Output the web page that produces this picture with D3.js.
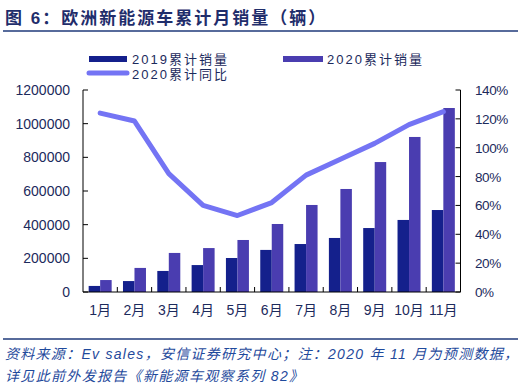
<!DOCTYPE html>
<html>
<head>
<meta charset="utf-8">
<script src="https://cdn.jsdelivr.net/npm/d3@7"></script>
<style>
  body { margin: 0; background: #fff; }
  text { font-family: "Liberation Sans", "Noto Sans CJK SC", sans-serif; }
</style>
</head>
<body>
<svg id="chart" width="523" height="392"></svg>
<script>
const months = ['1月', '2月', '3月', '4月', '5月', '6月', '7月', '8月', '9月', '10月', '11月'];
const sales2019 = [36000, 65000, 125000, 160000, 202000, 250000, 285000, 321000, 380000, 428000, 487000];
const sales2020 = [71000, 143000, 232000, 261000, 309000, 404000, 517000, 612000, 772000, 921000, 1093000];
const yoy2020 = [124, 118.5, 82, 60, 53, 62, 81, 92, 103, 116, 125];
const leftTicks = [0, 200000, 400000, 600000, 800000, 1000000, 1200000];
const rightTicks = [0, 20, 40, 60, 80, 100, 120, 140];

const navy = '#14208c';
const violet = '#4a3db0';
const lineColor = '#7474f4';
const textColor = '#1c2a5c';

const svg = d3.select('#chart');
const plotLeft = 83, plotRight = 460.5, plotTop = 90, plotBottom = 292;

const x = d3.scaleBand().domain(months).range([plotLeft, plotRight]).paddingInner(0.33).paddingOuter(0.165);
const xSub = d3.scaleBand().domain(['2019', '2020']).range([0, x.bandwidth()]);
const y = d3.scaleLinear().domain([0, 1200000]).range([plotBottom, plotTop]);
const y2 = d3.scaleLinear().domain([0, 140]).range([plotBottom, plotTop]);
const step = (plotRight - plotLeft) / months.length;

// title
svg.append('text').attr('x', 5).attr('y', 24)
  .attr('font-size', 17).attr('font-weight', 'bold').attr('fill', '#1f2d6b')
  .attr('letter-spacing', 2)
  .text('图 6：欧洲新能源车累计月销量（辆）');
svg.append('line').attr('x1', 3).attr('x2', 518).attr('y1', 31).attr('y2', 31)
  .attr('stroke', '#1f3a7a').attr('stroke-width', 1.3);

// legend
const lg = svg.append('g');
lg.append('rect').attr('x', 89).attr('y', 56).attr('width', 38).attr('height', 6).attr('fill', navy);
lg.append('text').attr('x', 132).attr('y', 63.5).attr('font-size', 13).attr('fill', textColor)
  .attr('textLength', 95).attr('lengthAdjust', 'spacing').text('2019累计销量');
lg.append('rect').attr('x', 283).attr('y', 56).attr('width', 40).attr('height', 6).attr('fill', violet);
lg.append('text').attr('x', 327).attr('y', 63.5).attr('font-size', 13).attr('fill', textColor)
  .attr('textLength', 95).attr('lengthAdjust', 'spacing').text('2020累计销量');
lg.append('line').attr('x1', 89).attr('x2', 127).attr('y1', 73).attr('y2', 73)
  .attr('stroke', lineColor).attr('stroke-width', 5).attr('stroke-linecap', 'round');
lg.append('text').attr('x', 132).attr('y', 78.5).attr('font-size', 13).attr('fill', textColor)
  .attr('textLength', 95).attr('lengthAdjust', 'spacing').text('2020累计同比');

// bars
const groups = svg.append('g').selectAll('g').data(months).join('g')
  .attr('transform', d => `translate(${x(d)},0)`);
groups.append('rect')
  .attr('x', xSub('2019')).attr('width', xSub.bandwidth())
  .attr('y', (d, i) => y(sales2019[i])).attr('height', (d, i) => plotBottom - y(sales2019[i]))
  .attr('fill', navy);
groups.append('rect')
  .attr('x', xSub('2020')).attr('width', xSub.bandwidth())
  .attr('y', (d, i) => y(sales2020[i])).attr('height', (d, i) => plotBottom - y(sales2020[i]))
  .attr('fill', violet);

// axes
const axisG = svg.append('g').attr('stroke', '#000').attr('stroke-width', 1);
axisG.append('line').attr('x1', plotLeft).attr('x2', plotLeft).attr('y1', plotTop).attr('y2', plotBottom);
axisG.append('line').attr('x1', plotRight).attr('x2', plotRight).attr('y1', plotTop).attr('y2', plotBottom);
axisG.append('line').attr('x1', plotLeft).attr('x2', plotRight).attr('y1', plotBottom).attr('y2', plotBottom);
axisG.selectAll('.lt').data(leftTicks).join('line')
  .attr('x1', plotLeft).attr('x2', plotLeft + 5).attr('y1', d => y(d)).attr('y2', d => y(d));
axisG.selectAll('.rt').data(rightTicks).join('line')
  .attr('x1', plotRight - 5).attr('x2', plotRight).attr('y1', d => y2(d)).attr('y2', d => y2(d));
axisG.selectAll('.xt').data(d3.range(1, months.length)).join('line')
  .attr('x1', d => plotLeft + d * step).attr('x2', d => plotLeft + d * step)
  .attr('y1', plotBottom - 5).attr('y2', plotBottom);

svg.append('g').selectAll('text').data(leftTicks).join('text')
  .attr('x', 70).attr('y', d => y(d) + 5).attr('text-anchor', 'end')
  .attr('font-size', 14).attr('fill', textColor).text(d => d);
svg.append('g').selectAll('text').data(rightTicks).join('text')
  .attr('x', 475).attr('y', d => y2(d) + 5)
  .attr('font-size', 13.5).attr('letter-spacing', -0.4).attr('fill', textColor).text(d => d + '%');
svg.append('g').selectAll('text').data(months).join('text')
  .attr('x', d => x(d) + x.bandwidth() / 2).attr('y', 315).attr('text-anchor', 'middle')
  .attr('font-size', 14).attr('fill', textColor).text(d => d);

// yoy line
const line = d3.line()
  .x((d, i) => x(months[i]) + x.bandwidth() / 2)
  .y(d => y2(d));
svg.append('path').datum(yoy2020).attr('d', line)
  .attr('fill', 'none').attr('stroke', lineColor).attr('stroke-width', 5)
  .attr('stroke-linecap', 'round').attr('stroke-linejoin', 'round');

// footer
svg.append('line').attr('x1', 3).attr('x2', 518).attr('y1', 339).attr('y2', 339)
  .attr('stroke', '#1f3a7a').attr('stroke-width', 1.3);
const footColor = '#1f4a9c';
svg.append('text').attr('x', 5).attr('y', 359).attr('font-size', 14).attr('font-style', 'italic')
  .attr('fill', footColor).attr('textLength', 513).attr('lengthAdjust', 'spacing')
  .text('资料来源：Ev sales，安信证券研究中心；注：2020 年 11 月为预测数据，');
svg.append('text').attr('x', 5).attr('y', 381).attr('font-size', 14).attr('font-style', 'italic')
  .attr('fill', footColor).attr('textLength', 298).attr('lengthAdjust', 'spacing')
  .text('详见此前外发报告《新能源车观察系列 82》');
</script>
</body>
</html>
